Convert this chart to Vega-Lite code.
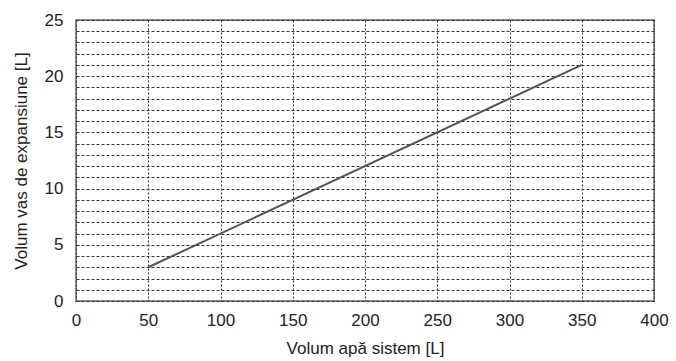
{
  "$schema": "https://vega.github.io/schema/vega-lite/v6.json",
  "autosize": {"type": "none"},
  "width": 578,
  "height": 281,
  "padding": {"left": 76, "top": 20, "right": 22, "bottom": 60},
  "background": "white",
  "config": {
    "font": "Liberation Sans",
    "view": {"stroke": "#8a8a8a", "strokeWidth": 2},
    "axis": {
      "labelFont": "Liberation Sans",
      "titleFont": "Liberation Sans",
      "labelFontSize": 17,
      "titleFontSize": 17,
      "labelColor": "#222",
      "titleColor": "#222",
      "titleFontWeight": "normal",
      "labelFlush": false,
      "domain": false,
      "ticks": false,
      "gridColor": "#333",
      "gridOpacity": 1,
      "gridWidth": 1
    }
  },
  "data": {"values": [
    {"sistem": 50, "vas": 3},
    {"sistem": 350, "vas": 21}
  ]},
  "mark": {"type": "line", "color": "#555555", "strokeWidth": 2},
  "encoding": {
    "x": {
      "field": "sistem", "type": "quantitative",
      "scale": {"domain": [0, 400], "nice": false},
      "axis": {
        "title": "Volum apă sistem [L]",
        "values": [0, 50, 100, 150, 200, 250, 300, 350, 400],
        "gridDash": [2, 2],
        "labelPadding": 11,
        "titlePadding": 12
      }
    },
    "y": {
      "field": "vas", "type": "quantitative",
      "scale": {"domain": [0, 25], "nice": false},
      "axis": {
        "title": "Volum vas de expansiune [L]",
        "values": [0,1,2,3,4,5,6,7,8,9,10,11,12,13,14,15,16,17,18,19,20,21,22,23,24,25],
        "labelExpr": "datum.value % 5 === 0 ? datum.label : ''",
        "gridDash": [3, 2],
        "labelPadding": 13,
        "titlePadding": 14
      }
    }
  }
}
